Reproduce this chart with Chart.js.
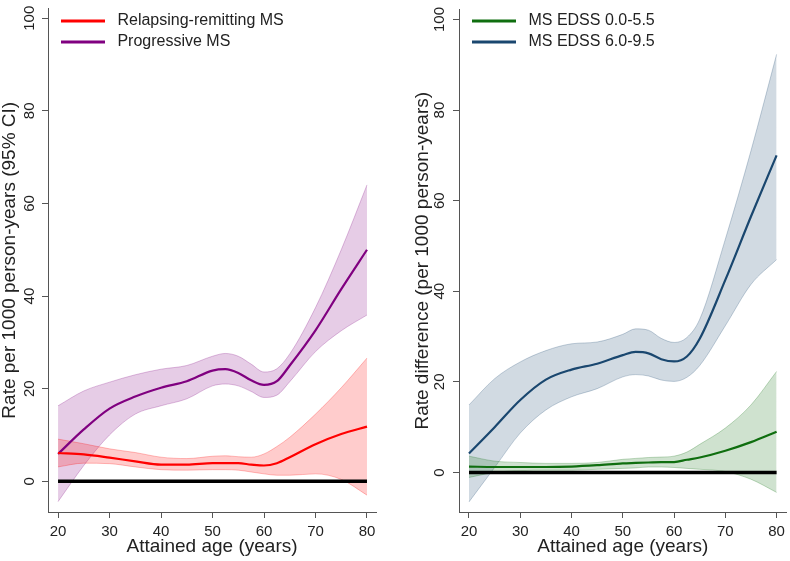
<!DOCTYPE html>
<html>
<head>
<meta charset="utf-8">
<script src="https://cdn.jsdelivr.net/npm/chart.js@4"></script>
<style>
  body { margin: 0; background: #fff; }
  canvas { position: absolute; top: 0; }
</style>
</head>
<body>
<canvas id="left" width="395" height="561" style="left:0"></canvas>
<canvas id="right" width="395" height="561" style="left:395px"></canvas>
<script>
// attained age grid (years)
const ages = [20, 25, 30, 35, 40, 45, 50, 52.5, 55, 57.5, 60, 62.5, 65, 70, 75, 80];
const xTicks = [20, 30, 40, 50, 60, 70, 80];
const yTicks = [0, 20, 40, 60, 80, 100];

// left panel: rate per 1000 person-years
const rrmsRate = [6.1, 5.8, 5.1, 4.3, 3.6, 3.6, 3.9, 3.9, 3.9, 3.6, 3.4, 3.9, 5.2, 8.0, 10.2, 11.8];
const rrmsUpper = [9.1, 8.1, 7.0, 6.2, 5.2, 4.9, 5.4, 5.5, 5.3, 5.2, 5.9, 7.5, 9.5, 14.5, 20.2, 26.6];
const rrmsLower = [3.1, 3.9, 3.8, 3.1, 2.5, 2.4, 2.5, 2.5, 2.4, 2.0, 1.6, 1.3, 1.3, 1.6, 0.4, -3.0];
const progRate = [5.9, 11.2, 15.7, 18.3, 20.2, 21.6, 23.9, 24.2, 23.4, 21.8, 20.8, 21.6, 25.0, 32.6, 41.5, 50.0];
const progUpper = [16.3, 19.5, 21.4, 23.0, 24.2, 25.0, 27.0, 27.6, 27.0, 25.3, 23.6, 24.3, 27.5, 37.5, 50.0, 64.0];
const progLower = [-4.4, 3.4, 10.0, 14.5, 16.3, 17.8, 20.6, 21.0, 20.6, 19.4, 18.1, 18.6, 21.5, 28.0, 32.5, 35.9];

// right panel: rate difference per 1000 person-years
const lowEdss = [1.3, 1.2, 1.2, 1.2, 1.3, 1.6, 2.0, 2.1, 2.2, 2.3, 2.3, 2.8, 3.3, 4.8, 6.7, 9.0];
const lowEdssUpper = [3.6, 2.5, 2.2, 2.0, 2.0, 2.2, 2.9, 3.1, 3.3, 3.4, 3.6, 4.5, 6.2, 9.8, 14.9, 22.3];
const lowEdssLower = [-1.1, 0.0, 0.4, 0.5, 0.5, 0.7, 0.9, 1.0, 1.2, 1.2, 1.1, 0.9, 0.7, 0.2, -1.5, -4.4];
const highEdss = [4.2, 10.0, 16.0, 20.5, 22.7, 24.0, 25.9, 26.6, 26.3, 25.0, 24.5, 25.6, 29.5, 42.5, 56.5, 70.0];
const highEdssUpper = [14.9, 20.7, 24.4, 26.9, 28.4, 28.8, 30.5, 31.7, 31.4, 29.6, 28.7, 29.8, 33.8, 51.5, 71.0, 92.3];
const highEdssLower = [-6.5, 1.1, 8.7, 13.8, 16.7, 18.5, 21.1, 21.6, 21.3, 20.4, 20.1, 21.0, 23.6, 32.4, 41.5, 47.0];

const zeroLine = ages.map(() => 0);

const FONT = "'Liberation Sans', Arial, sans-serif";
const AXIS = '#555';
const TEXT = '#222';

const pts = arr => ages.map((a, i) => ({ x: a, y: arr[i] }));

// moves the chartArea legend in from the corner
const nudgeLegend = {
  id: 'nudgeLegend',
  afterLayout(chart) {
    chart.legend.left += 8;
    chart.legend.top += 8;
  }
};

function makeChart(id, o) {
  const datasets = [];
  o.series.forEach(s => {
    datasets.push({ data: pts(s.up), borderColor: s.edge, borderWidth: 1, fill: false, order: 3 });
    datasets.push({ data: pts(s.lo), borderColor: s.edge, borderWidth: 1, backgroundColor: s.band, fill: '-1', order: 3 });
  });
  datasets.push({ data: pts(zeroLine), borderColor: '#000', borderWidth: 3.5, fill: false, order: 2, tension: 0 });
  o.series.forEach(s => {
    datasets.push({ label: s.name, data: pts(s.mid), borderColor: s.color, backgroundColor: s.color, borderWidth: 2.2, fill: false, order: 1 });
  });

  return new Chart(document.getElementById(id), {
    type: 'line',
    data: { datasets },
    plugins: [nudgeLegend],
    options: {
      responsive: false,
      animation: false,
      devicePixelRatio: 1,
      layout: { padding: { left: 0, right: o.padRight, top: 4, bottom: 0 } },
      elements: {
        point: { radius: 0 },
        line: { cubicInterpolationMode: 'monotone' }
      },
      plugins: {
        tooltip: { enabled: false },
        legend: {
          position: 'chartArea',
          align: 'start',
          labels: {
            boxWidth: 44,
            boxHeight: 3,
            padding: 5,
            color: TEXT,
            font: { family: FONT, size: 16 },
            generateLabels: () => o.series.map(s => ({
              text: ' ' + s.name,
              fillStyle: s.color,
              strokeStyle: s.color,
              lineWidth: 0,
              hidden: false,
              fontColor: TEXT
            }))
          }
        }
      },
      scales: {
        x: {
          type: 'linear',
          min: 18.05,
          max: o.xMax,
          afterBuildTicks: sc => { sc.ticks = xTicks.map(v => ({ value: v })); },
          afterFit: sc => { sc.height = 49; },
          grid: { drawOnChartArea: false, tickLength: 6, color: AXIS },
          border: { color: AXIS, width: 1 },
          ticks: { color: TEXT, padding: 5, maxRotation: 0, font: { family: FONT, size: 15 } },
          title: { display: true, text: 'Attained age (years)', color: TEXT, padding: { top: 0, bottom: 4.5 }, font: { family: FONT, size: 19, lineHeight: 1 } }
        },
        y: {
          type: 'linear',
          min: o.yMin,
          max: o.yMax,
          afterBuildTicks: sc => { sc.ticks = yTicks.map(v => ({ value: v })); },
          afterFit: sc => { sc.width = o.axisWidth; },
          grid: { drawOnChartArea: false, tickLength: 6, color: AXIS },
          border: { color: AXIS, width: 1 },
          ticks: { color: TEXT, padding: o.tickPad, minRotation: 90, maxRotation: 90, crossAlign: 'center', font: { family: FONT, size: 15 } },
          title: { display: true, text: o.yTitle, color: TEXT, padding: { top: o.titlePad, bottom: 0 }, font: { family: FONT, size: 19, lineHeight: 1 } }
        }
      }
    }
  });
}

makeChart('left', {
  yTitle: 'Rate per 1000 person-years (95% CI)',
  yMin: -6.64, yMax: 102.1, xMax: 81.75,
  axisWidth: 48, tickPad: -0.5, titlePad: 0.5, padRight: 19,
  series: [
    { name: 'Relapsing-remitting MS', mid: rrmsRate, up: rrmsUpper, lo: rrmsLower,
      color: '#ff0000', band: 'rgba(255,0,0,0.2)', edge: 'rgba(255,0,0,0.25)' },
    { name: 'Progressive MS', mid: progRate, up: progUpper, lo: progLower,
      color: '#800080', band: 'rgba(128,0,128,0.2)', edge: 'rgba(128,0,128,0.25)' }
  ]
});

makeChart('right', {
  yTitle: 'Rate difference (per 1000 person-years)',
  yMin: -8.73, yMax: 102.2, xMax: 81.95,
  axisWidth: 64, tickPad: 0.5, titlePad: 18.5, padRight: 2,
  series: [
    { name: 'MS EDSS 0.0-5.5', mid: lowEdss, up: lowEdssUpper, lo: lowEdssLower,
      color: '#0f6e0f', band: 'rgba(15,110,15,0.2)', edge: 'rgba(15,110,15,0.25)' },
    { name: 'MS EDSS 6.0-9.5', mid: highEdss, up: highEdssUpper, lo: highEdssLower,
      color: '#1a476f', band: 'rgba(26,71,111,0.2)', edge: 'rgba(26,71,111,0.25)' }
  ]
});
</script>
</body>
</html>
